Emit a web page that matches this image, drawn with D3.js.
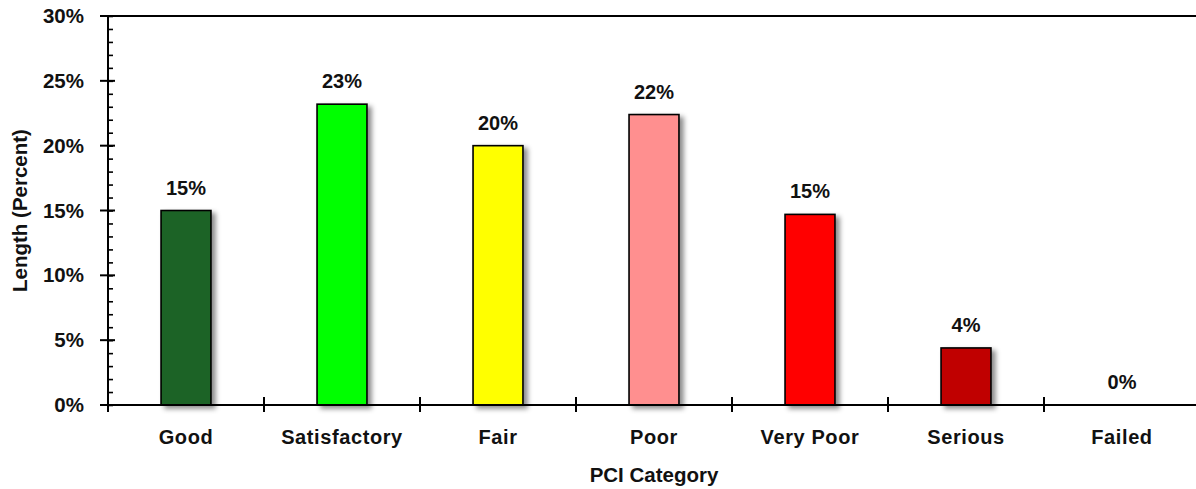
<!DOCTYPE html>
<html>
<head>
<meta charset="utf-8">
<script src="https://cdn.jsdelivr.net/npm/d3@7"></script>
<style>
  html, body { margin: 0; padding: 0; background: #fff; }
  svg { display: block; font-family: "Liberation Sans", Arial, sans-serif; }
</style>
</head>
<body>
<svg id="chart" width="1196" height="489"></svg>
<script>
// PCI condition distribution by road length
const categories = ["Good", "Satisfactory", "Fair", "Poor", "Very Poor", "Serious", "Failed"];
const shares = [0.150, 0.232, 0.200, 0.224, 0.147, 0.044, 0.000];
const barColors = ["#1b6325", "#00ff00", "#ffff00", "#ff8f8f", "#ff0000", "#c00000", "#7f0000"];
const yTicks = [0, 0.05, 0.10, 0.15, 0.20, 0.25, 0.30];
const yMinorTicks = d3.range(0, 31).map(d => d / 100);
const xTitle = "PCI Category";
const yTitle = "Length (Percent)";

(function draw() {
  const svg = d3.select("#chart");
  const W = 1196;
  const plotLeft = 108, plotRight = 1200, plotTop = 16, plotBottom = 405;

  const x = d3.scaleBand().domain(categories).range([plotLeft, plotRight])
    .paddingInner(0.68).paddingOuter(0.34);
  const xEdges = d3.scaleBand().domain(categories).range([plotLeft, plotRight]).padding(0);
  const y = d3.scaleLinear().domain([0, 0.30]).range([plotBottom, plotTop]);
  const pct = d3.format(".0%");

  // soft shadow behind each bar
  const defs = svg.append("defs");
  const f = defs.append("filter").attr("id", "shadow")
    .attr("x", "-20%").attr("y", "-20%").attr("width", "160%").attr("height", "140%");
  f.append("feDropShadow").attr("dx", 4).attr("dy", 3)
    .attr("stdDeviation", 2.5).attr("flood-color", "#000").attr("flood-opacity", 0.45);

  // top border of the plot area
  svg.append("line")
    .attr("x1", 100).attr("x2", W).attr("y1", y(0.30)).attr("y2", y(0.30))
    .attr("stroke", "#000").attr("stroke-width", 2);

  // bars
  svg.append("g").selectAll("rect")
    .data(categories.map((c, i) => ({ c, v: shares[i], col: barColors[i] })).filter(d => d.v > 0))
    .join("rect")
    .attr("x", d => x(d.c))
    .attr("y", d => y(d.v))
    .attr("width", x.bandwidth())
    .attr("height", d => y(0) - y(d.v))
    .attr("fill", d => d.col)
    .attr("stroke", "#000")
    .attr("stroke-width", 1.6)
    .attr("filter", "url(#shadow)");

  // value labels
  svg.append("g").selectAll("text")
    .data(categories.map((c, i) => ({ c, v: shares[i] })))
    .join("text")
    .attr("x", d => x(d.c) + x.bandwidth() / 2)
    .attr("y", d => y(d.v) - 16)
    .attr("text-anchor", "middle")
    .attr("font-size", 20)
    .attr("font-weight", "bold")
    .attr("fill", "#111")
    .text(d => pct(d.v));

  // y axis: major ticks crossing the line, minor ticks inside
  const yAxis = svg.append("g").attr("transform", `translate(${plotLeft},0)`);
  yAxis.append("g")
    .call(d3.axisRight(y).tickValues(yMinorTicks).tickSize(5).tickFormat(""))
    .call(g => g.select(".domain").remove())
    .call(g => g.selectAll("line").attr("stroke", "#000").attr("stroke-width", 1.6));
  yAxis.append("g")
    .call(d3.axisLeft(y).tickValues(yTicks).tickSize(0).tickFormat(pct))
    .call(g => g.select(".domain").remove())
    .call(g => g.selectAll("text")
      .attr("x", -24).attr("font-size", 20.5).attr("font-weight", "bold")
      .attr("fill", "#111").attr("font-family", "Liberation Sans, Arial, sans-serif"));
  yAxis.append("g").selectAll("line").data(yTicks).join("line")
    .attr("x1", -8).attr("x2", 7).attr("y1", d => y(d)).attr("y2", d => y(d))
    .attr("stroke", "#000").attr("stroke-width", 2);
  yAxis.append("line")
    .attr("x1", 0).attr("x2", 0).attr("y1", y(0.30)).attr("y2", plotBottom + 7)
    .attr("stroke", "#000").attr("stroke-width", 2);

  // x axis baseline and category boundary ticks
  const xAxis = svg.append("g");
  xAxis.append("line")
    .attr("x1", 100).attr("x2", W).attr("y1", plotBottom).attr("y2", plotBottom)
    .attr("stroke", "#000").attr("stroke-width", 2);
  xAxis.selectAll(".edge").data(categories.slice(1)).join("line")
    .attr("class", "edge")
    .attr("x1", d => xEdges(d)).attr("x2", d => xEdges(d))
    .attr("y1", plotBottom - 8).attr("y2", plotBottom + 7)
    .attr("stroke", "#000").attr("stroke-width", 2);
  xAxis.selectAll(".cat").data(categories).join("text")
    .attr("class", "cat")
    .attr("x", d => x(d) + x.bandwidth() / 2)
    .attr("y", 444)
    .attr("text-anchor", "middle")
    .attr("font-size", 20)
    .attr("font-weight", "bold")
    .attr("letter-spacing", 0.6)
    .attr("fill", "#111")
    .text(d => d);

  // axis titles
  svg.append("text")
    .attr("x", (plotLeft + plotRight) / 2).attr("y", 482)
    .attr("text-anchor", "middle")
    .attr("font-size", 20.5).attr("font-weight", "bold").attr("fill", "#111")
    .text(xTitle);
  svg.append("text")
    .attr("transform", `translate(27,${(y(0.30) + plotBottom) / 2}) rotate(-90)`)
    .attr("text-anchor", "middle")
    .attr("font-size", 20.5).attr("font-weight", "bold").attr("fill", "#111")
    .text(yTitle);
})();
</script>
</body>
</html>
